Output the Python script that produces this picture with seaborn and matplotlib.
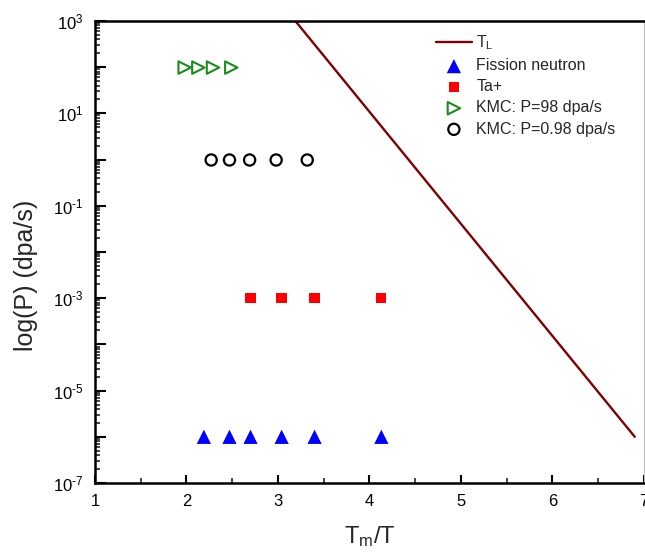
import matplotlib
matplotlib.use("Agg")
import matplotlib.pyplot as plt
import matplotlib.ticker as mticker
import numpy as np
import pandas as pd
import seaborn as sns

# T_L boundary line (endpoints in Tm/T, dpa/s)
tl_x = [3.19, 6.90]
tl_p = [1e3, 1e-6]

# Fission neutron irradiation conditions
fission_x = [2.19, 2.47, 2.70, 3.04, 3.40, 4.13]
fission_p = [1e-6, 1e-6, 1e-6, 1e-6, 1e-6, 1e-6]

# Ta+ ion irradiation conditions
ta_x = [2.70, 3.04, 3.40, 4.13]
ta_p = [1e-3, 1e-3, 1e-3, 1e-3]

# KMC runs at P = 98 dpa/s
kmc98_x = [1.98, 2.13, 2.29, 2.49]
kmc98_p = [98, 98, 98, 98]

# KMC runs at P = 0.98 dpa/s
kmc098_x = [2.27, 2.47, 2.69, 2.98, 3.32]
kmc098_p = [0.98, 0.98, 0.98, 0.98, 0.98]

sns.set_style("ticks")
plt.rcParams["font.family"] = ["Liberation Sans", "DejaVu Sans"]
plt.rcParams["mathtext.default"] = "regular"
plt.rcParams["axes.unicode_minus"] = False

fig = plt.figure(figsize=(6.45, 5.52), dpi=100)
ax = fig.add_axes([0.1473, 0.125, 0.851, 0.837])

sns.lineplot(x=tl_x, y=tl_p, ax=ax, color="#800000", linewidth=1.7,
             label="T$_L$")
sns.scatterplot(x=fission_x, y=fission_p, ax=ax, marker="^", s=105,
                color="#0000FF", edgecolor="none", label="Fission neutron",
                zorder=3)
sns.scatterplot(x=ta_x, y=ta_p, ax=ax, marker="s", s=55,
                color="#FF0000", edgecolor="none", label="Ta+", zorder=3)
sns.scatterplot(x=kmc98_x, y=kmc98_p, ax=ax, marker=">", s=80,
                facecolor="none", edgecolor="#1A8C1A", linewidth=1.5,
                label="KMC: P=98 dpa/s", zorder=3)
sns.scatterplot(x=kmc098_x, y=kmc098_p, ax=ax, marker="o", s=65,
                facecolor="none", edgecolor="black", linewidth=1.6,
                label="KMC: P=0.98 dpa/s", zorder=3)

ax.set_yscale("log")
ax.set_xlim(1, 7)
ax.set_ylim(1e-7, 1e3)

ax.xaxis.set_major_locator(mticker.MultipleLocator(1))
ax.xaxis.set_minor_locator(mticker.MultipleLocator(0.5))
ax.yaxis.set_major_locator(mticker.LogLocator(base=10, numticks=20))
ax.yaxis.set_minor_locator(mticker.LogLocator(base=10, subs=np.arange(2, 10),
                                              numticks=200))


def decade_label(v, pos):
    e = int(round(np.log10(v)))
    if e % 2 == 0:
        return ""
    exp = str(abs(e)) if e >= 0 else "\u2010" + str(abs(e))
    return r"$10^{%s}$" % exp


ax.yaxis.set_major_formatter(mticker.FuncFormatter(decade_label))
ax.yaxis.set_minor_formatter(mticker.NullFormatter())

ax.tick_params(axis="both", which="major", direction="in", length=6,
               width=1.5, labelsize=12, colors="black", pad=8)
ax.tick_params(axis="both", which="minor", direction="in", length=3.5,
               width=1.2)
ax.tick_params(axis="y", which="major", length=8)

for side in ("left", "bottom", "top"):
    ax.spines[side].set_linewidth(1.8)
    ax.spines[side].set_color("black")
ax.spines["right"].set_linewidth(0.8)
ax.spines["right"].set_color("#BBBBBB")

ax.set_xlabel("T$_m$/T", fontsize=17)
ax.xaxis.set_label_coords(0.5, -0.088)
ax.set_ylabel("log(P) (dpa/s)", fontsize=18)
ax.yaxis.set_label_coords(-0.103, 0.45)

leg = ax.legend(loc="upper left", bbox_to_anchor=(0.6, 0.997), frameon=False,
                fontsize=11.5, handlelength=2.3, handletextpad=0.25,
                labelspacing=0.38, borderaxespad=0.3)

fig.savefig("out.png", dpi=100)
